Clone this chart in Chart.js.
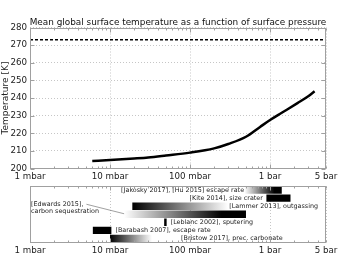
<!DOCTYPE html>
<html>
<head>
<meta charset="utf-8">
<script src="https://cdn.jsdelivr.net/npm/chart.js@4/dist/chart.umd.min.js"></script>
<style>
  html, body { margin: 0; padding: 0; background: #fff; }
  #wrap { position: relative; width: 359px; height: 260px; }
  canvas { position: absolute; left: 0; }
</style>
</head>
<body>
<div id="wrap">
  <canvas id="temp" width="359" height="182" style="top:0"></canvas>
  <canvas id="refs" width="359" height="78" style="top:182px"></canvas>
</div>
<script>
// surface pressure [mbar] -> mean global surface temperature [K]
const pressure = [6, 10, 20, 30, 50, 100, 200, 300, 500, 750, 1000, 1400, 2200, 3000, 3600];
const temperature = [204.3, 204.8, 205.7, 206.3, 207.4, 209, 211.4, 213.9, 218, 223.6, 227.5, 231.6, 237.1, 241, 243.8];
const freezing = 273;

const tickValues = [1, 10, 100, 1000, 5000];
const tickLabels = ['1 mbar', '10 mbar', '100 mbar', '1 bar', '5 bar'];

// pressure ranges from the literature [mbar]
const refLabels = [
  '[Jakosky 2017], [Hu 2015] escape rate',
  '[Kite 2014], size crater',
  '[Lammer 2013], outgassing',
  '[Edwards 2015],\ncarbon sequestration',
  '[Leblanc 2002], sputering',
  '[Barabash 2007], escape rate',
  '[Bristow 2017], prec. carbonate'
];
const refStart = [480, 900, 19, 15, 47.5, 6.1, 10];
const refEnd = [1400, 1800, 300, 500, 51, 10.4, 75];

const titleText = 'Mean global surface temperature as a function of surface pressure';
const font = '"DejaVu Sans", sans-serif';
const gridColor = '#b8b8b8';
const spineColor = '#a0a0a0';

// how each bar is shaded, and on which side its label sits
const shade = ['in', 'solid', 'out', 'in', 'solid', 'solid', 'out'];
const labelSide = ['left', 'left', 'right', 'free', 'right', 'right', 'right'];

Chart.defaults.font.family = font;
Chart.defaults.color = '#222';
Chart.defaults.animation = false;

const logTicks = (scale) => {
  scale.ticks = tickValues.map(v => ({value: v}));
};

const xAxis = (height) => ({
  type: 'logarithmic',
  min: 1,
  max: 5000,
  afterBuildTicks: logTicks,
  afterFit: (s) => { s.height = height; },
  ticks: {
    callback: (v, i) => tickLabels[i],
    font: {size: 8.7},
    padding: 3,
    maxRotation: 0,
    autoSkip: false
  },
  grid: {color: gridColor, lineWidth: 0.8, drawTicks: false},
  border: {display: false, dash: [1, 2]}
});

// box around the plot, with inward ticks like the original
const frame = {
  id: 'frame',
  afterDraw(chart) {
    const {ctx, chartArea: a, scales} = chart;
    ctx.save();
    ctx.strokeStyle = spineColor;
    ctx.lineWidth = 1;
    const l = Math.round(a.left) + 0.5, t = Math.round(a.top) + 0.5;
    const r = Math.round(a.right) - 0.5, b = Math.round(a.bottom) - 0.5;
    ctx.strokeRect(l, t, r - l, b - t);
    ctx.beginPath();
    for (let d = 1; d <= 1000; d *= 10) {
      for (let m = 1; m < 10; m++) {
        const v = d * m;
        if (v > 5000) break;
        const px = Math.round(scales.x.getPixelForValue(v)) + 0.5;
        const len = m === 1 ? 4 : 2;
        ctx.moveTo(px, b); ctx.lineTo(px, b - len);
        ctx.moveTo(px, t); ctx.lineTo(px, t + len);
      }
    }
    if (scales.y && scales.y.options.display) {
      scales.y.ticks.forEach(tk => {
        const py = Math.round(scales.y.getPixelForValue(tk.value)) + 0.5;
        ctx.moveTo(l, py); ctx.lineTo(l + 4, py);
        ctx.moveTo(r, py); ctx.lineTo(r - 4, py);
      });
    }
    ctx.stroke();
    ctx.restore();
  }
};

const titlePlugin = {
  id: 'toptitle',
  afterDraw(chart) {
    const {ctx, chartArea: a} = chart;
    ctx.save();
    ctx.font = '8.9px ' + font;
    ctx.fillStyle = '#111';
    ctx.textAlign = 'center';
    ctx.textBaseline = 'alphabetic';
    ctx.fillText(titleText, (a.left + a.right) / 2, a.top - 3);
    ctx.restore();
  }
};

new Chart(document.getElementById('temp'), {
  type: 'line',
  data: {
    datasets: [
      {
        data: pressure.map((p, i) => ({x: p, y: temperature[i]})),
        borderColor: '#000',
        borderWidth: 2.5,
        pointRadius: 0,
        cubicInterpolationMode: 'monotone'
      },
      {
        data: [{x: 1, y: freezing}, {x: 5000, y: freezing}],
        borderColor: '#000',
        borderWidth: 1.5,
        borderDash: [3, 2],
        pointRadius: 0
      }
    ]
  },
  options: {
    responsive: false,
    layout: {padding: {top: 27.5, right: 33, left: 0, bottom: 0}},
    plugins: {legend: {display: false}, tooltip: {enabled: false}},
    scales: {
      x: xAxis(13.5),
      y: {
        min: 200,
        max: 280,
        afterFit: (s) => { s.width = 30; },
        ticks: {stepSize: 10, font: {size: 8.7}, padding: 3},
        grid: {color: gridColor, lineWidth: 0.8, drawTicks: false},
        border: {display: false, dash: [1, 2]},
        title: {display: true, text: 'Temperature [K]', font: {size: 9}, padding: {top: 0, bottom: 0}}
      }
    }
  },
  plugins: [frame, titlePlugin]
});

const shadeFill = (c) => {
  const i = c.dataIndex;
  const chart = c.chart;
  if (i === undefined || !chart.chartArea) return '#000';
  if (shade[i] === 'solid') return '#000';
  const x0 = chart.scales.x.getPixelForValue(refStart[i]);
  const x1 = chart.scales.x.getPixelForValue(refEnd[i]);
  const g = chart.ctx.createLinearGradient(x0, 0, x1, 0);
  if (shade[i] === 'in') {
    g.addColorStop(0, '#fff');
    g.addColorStop(0.8, '#000');
    g.addColorStop(1, '#000');
  } else {
    g.addColorStop(0, '#000');
    g.addColorStop(i === 6 ? 0.6 : 1, '#fff');
  }
  return g;
};

const refText = {
  id: 'refText',
  afterDatasetsDraw(chart) {
    const {ctx, chartArea: a, scales} = chart;
    ctx.save();
    ctx.font = '6.4px ' + font;
    ctx.fillStyle = '#222';
    ctx.textBaseline = 'middle';
    refLabels.forEach((txt, i) => {
      const y = scales.y.getPixelForValue(i);
      const x0 = scales.x.getPixelForValue(refStart[i]);
      const x1 = scales.x.getPixelForValue(refEnd[i]);
      if (labelSide[i] === 'left') {
        ctx.textAlign = 'right';
        ctx.fillText(txt, x0 - (shade[i] === 'solid' ? 3.5 : 0.5), y);
      } else if (labelSide[i] === 'right') {
        ctx.textAlign = 'left';
        ctx.fillText(txt, x1 + (shade[i] === 'solid' ? 4 : 1), y);
      } else {
        const lines = txt.split('\n');
        ctx.textAlign = 'left';
        ctx.fillText(lines[0], a.left + 1, y - 10);
        ctx.fillText(lines[1], a.left + 1, y - 3);
        const w = ctx.measureText(lines[0]).width;
        ctx.strokeStyle = '#777';
        ctx.lineWidth = 0.7;
        ctx.beginPath();
        ctx.moveTo(a.left + 1 + w + 3, y - 10);
        ctx.lineTo(x0, y - 0.5);
        ctx.stroke();
      }
    });
    ctx.restore();
  }
};

new Chart(document.getElementById('refs'), {
  type: 'bar',
  data: {
    labels: refLabels,
    datasets: [{
      data: refStart.map((s, i) => [s, refEnd[i]]),
      backgroundColor: shadeFill,
      borderWidth: 0,
      barPercentage: 0.92,
      categoryPercentage: 1
    }]
  },
  options: {
    indexAxis: 'y',
    responsive: false,
    layout: {padding: {top: 4, right: 33, left: 30, bottom: 0}},
    plugins: {legend: {display: false}, tooltip: {enabled: false}},
    scales: {
      x: xAxis(17.5),
      y: {display: false}
    }
  },
  plugins: [refText, frame]
});
</script>
</body>
</html>
